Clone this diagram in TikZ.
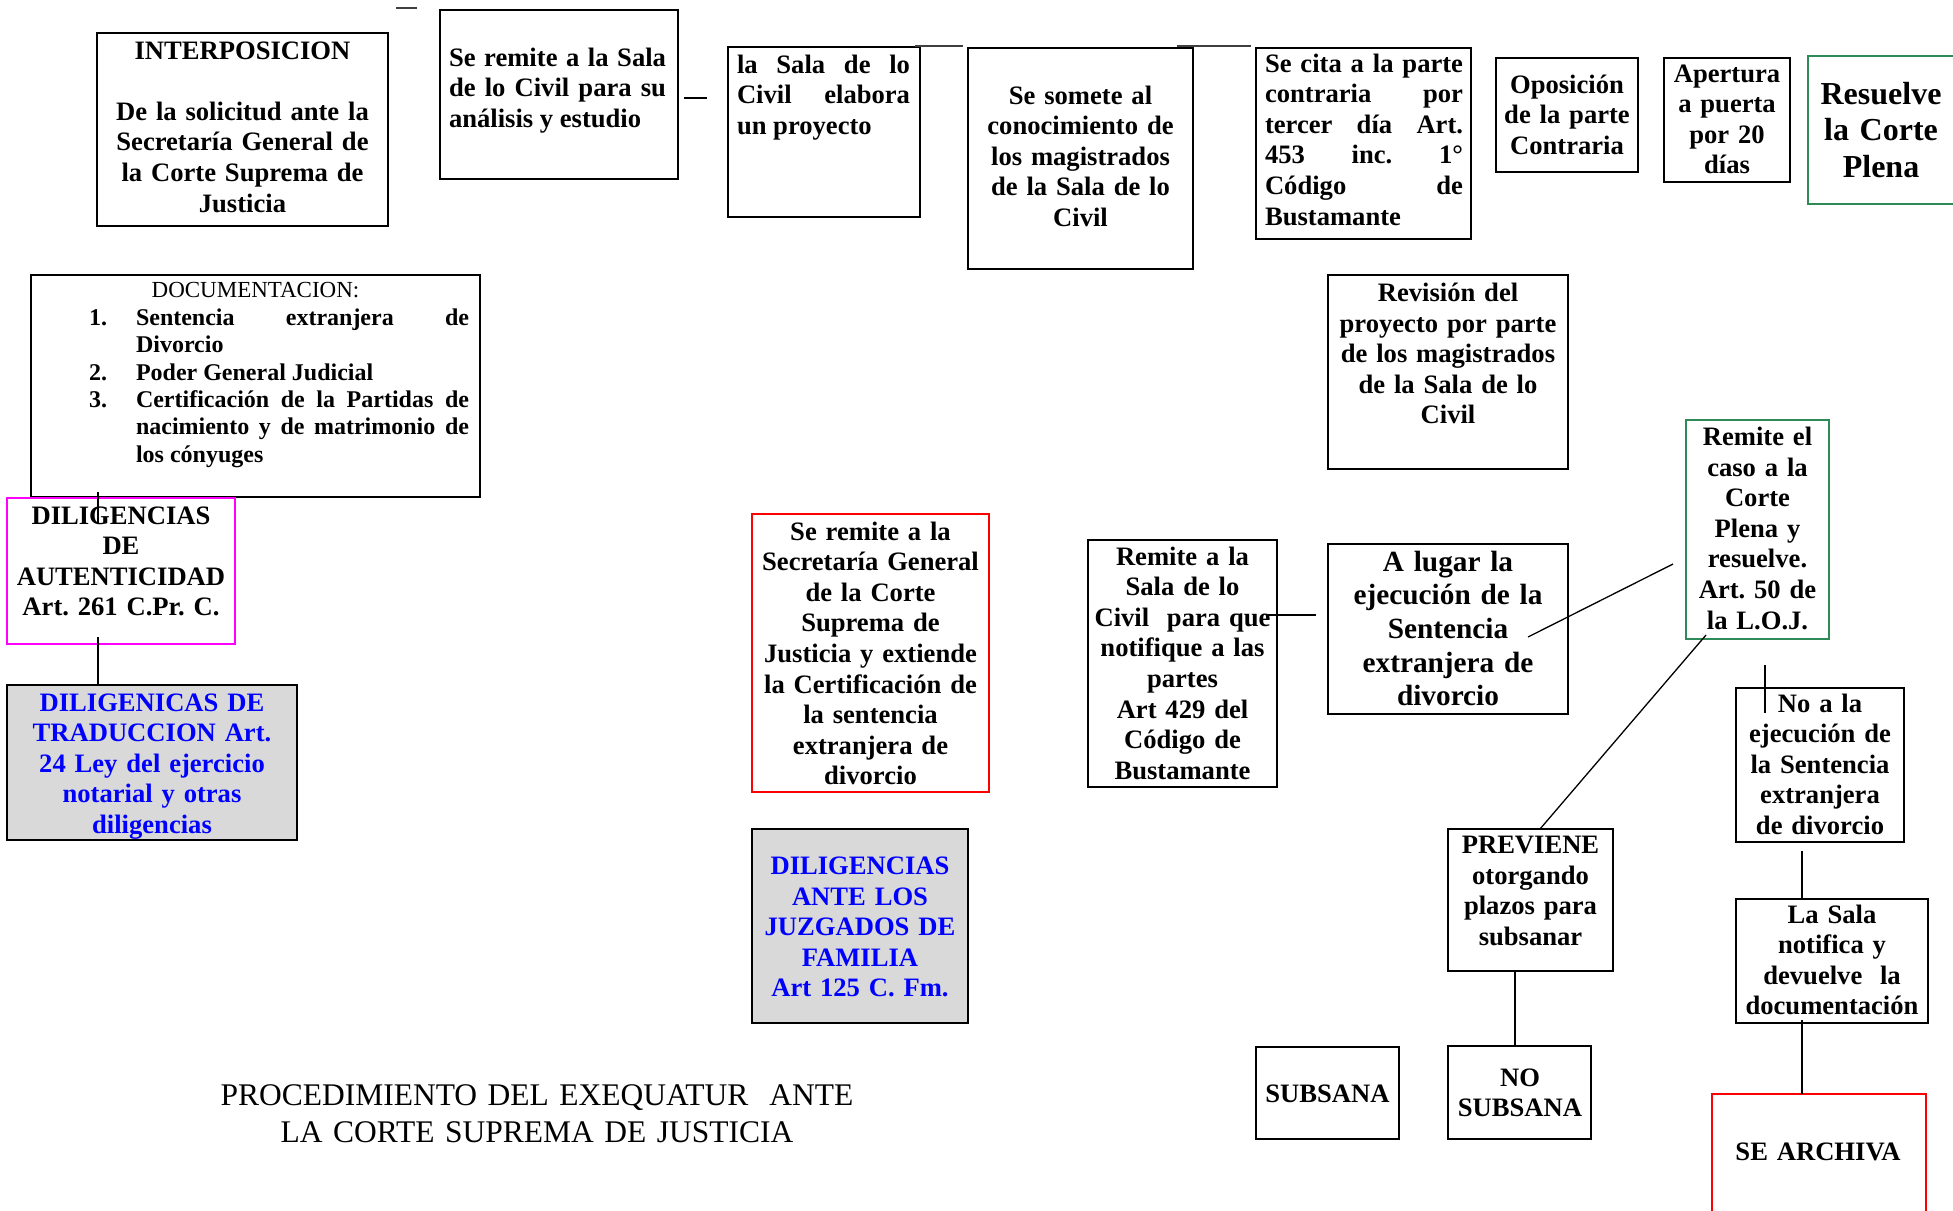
\documentclass[tikz,border=0pt]{standalone}
\usepackage{fontspec}
\setmainfont{Liberation Serif}
\hyphenpenalty=10000 \exhyphenpenalty=10000 \tolerance=9999
\frenchspacing
\definecolor{sgreen}{RGB}{46,139,87}
\definecolor{mag}{RGB}{255,0,255}
\definecolor{pred}{RGB}{255,0,0}
\definecolor{pblue}{RGB}{0,0,255}
\definecolor{lgray}{RGB}{217,217,217}
\newcommand\mkbox[6]{\node[#2,anchor=north west,minimum width={#5pt-#3pt},minimum height={#6pt-#4pt}] (#1) at (#3,#4) {};}
\begin{document}
\begin{tikzpicture}[x=1pt,y=-1pt,
  frame/.style={inner sep=0pt,outer sep=0pt},
  box/.style={frame,draw=black,line width=2pt},
  gbox/.style={frame,draw=sgreen,line width=1.8pt},
  mbox/.style={frame,draw=mag,line width=1.8pt},
  rbox/.style={frame,draw=pred,line width=1.8pt},
  graybox/.style={box,fill=lgray},
  conn/.style={draw=black,line width=1.3pt},
  topline/.style={draw=black!75,line width=1.6pt},
  tb/.style={inner sep=0pt,outer sep=0pt,anchor=base,align=center,font=\bfseries\fontsize{26.6}{30.6}\selectfont\frenchspacing},
  tj/.style={inner sep=0pt,outer sep=0pt,anchor=base west,align=justify,font=\bfseries\fontsize{26.6}{30.6}\selectfont\frenchspacing},
  bluetext/.style={text=pblue},
]
\path[use as bounding box,clip] (0,0) rectangle (1953,1210);
\fill[white] (0,0) rectangle (1953,1210);

% boxes
\mkbox{interp}{box}{97}{33}{388}{226}
\mkbox{remite}{box}{440}{10}{678}{179}
\mkbox{sala}{box}{728}{47}{920}{217}
\mkbox{somete}{box}{968}{48}{1193}{269}
\mkbox{cita}{box}{1256}{48}{1471}{239}
\mkbox{opos}{box}{1496}{58}{1638}{172}
\mkbox{apert}{box}{1664}{58}{1790}{182}
\mkbox{resuelve}{gbox}{1808}{56}{1975}{204}
\mkbox{revision}{box}{1328}{275}{1568}{469}
\mkbox{remcaso}{gbox}{1686}{420}{1829}{639}
\mkbox{doc}{box}{31}{275}{480}{497}
\mkbox{autent}{mbox}{7}{498}{235}{644}
\mkbox{trad}{graybox}{7}{685}{297}{840}
\mkbox{secret}{rbox}{752}{514}{989}{792}
\mkbox{juzg}{graybox}{752}{829}{968}{1023}
\mkbox{remsala}{box}{1088}{540}{1277}{787}
\mkbox{lugar}{box}{1328}{544}{1568}{714}
\mkbox{noala}{box}{1736}{688}{1904}{842}
\mkbox{lasala}{box}{1736}{899}{1928}{1023}
\mkbox{archiva}{rbox}{1712}{1094}{1926}{1240}
\mkbox{previene}{box}{1448}{829}{1613}{971}
\mkbox{subsana}{box}{1256}{1047}{1399}{1139}
\mkbox{nosub}{box}{1448}{1046}{1591}{1139}

% texts
\node[tb,text width=300pt] (t1) at (242.5,59) {INTERPOSICION\\[30.6pt]De la solicitud ante la\\Secretaría General de\\la Corte Suprema de\\Justicia};
\node[tj,text width=217pt] (t2) at (449,66) {Se remite a la Sala\linebreak de lo Civil para su\linebreak análisis y estudio};
\node[tj,text width=173pt] (t3) at (737,73) {la Sala de lo\linebreak Civil elabora\linebreak un proyecto};
\node[tb,text width=240pt] (t4) at (1080.5,104) {Se somete al\\conocimiento de\\los magistrados\\de la Sala de lo\\Civil};
\node[tj,text width=198pt] (t5) at (1265,72) {Se cita a la parte\linebreak contraria por\linebreak tercer día Art.\linebreak 453 inc. 1°\linebreak Código de\linebreak Bustamante};
\node[tb,text width=160pt] (t6) at (1567,93) {Oposición\\de la parte\\Contraria};
\node[tb,text width=140pt] (t7) at (1727,82) {Apertura\\a puerta\\por 20\\días};
\node[tb,text width=160pt,font=\bfseries\fontsize{32}{36.8}\selectfont] (t8) at (1881,104) {Resuelve\\la Corte\\Plena};
\node[tb,text width=260pt] (t9) at (1448,301.5) {Revisión del\\proyecto por parte\\de los magistrados\\de la Sala de lo\\Civil};
\node[tb,text width=160pt] (t10) at (1757.5,445.5) {Remite el\\caso a la\\Corte\\Plena y\\resuelve.\\Art. 50 de\\la L.O.J.};
\node[tb,text width=300pt,font=\fontsize{23}{27.6}\selectfont] (t11) at (255.5,297) {DOCUMENTACION:};
\node[tb,anchor=base west,font=\bfseries\fontsize{24}{27.6}\selectfont] (n1) at (89,325) {1.};
\node[tb,anchor=base west,font=\bfseries\fontsize{24}{27.6}\selectfont] (n2) at (89,380) {2.};
\node[tb,anchor=base west,font=\bfseries\fontsize{24}{27.6}\selectfont] (n3) at (89,407) {3.};
\node[tj,text width=333pt,font=\bfseries\fontsize{24}{27.6}\selectfont] (i1) at (136,325) {Sentencia extranjera de\linebreak Divorcio};
\node[tj,text width=333pt,font=\bfseries\fontsize{24}{27.6}\selectfont] (i2) at (136,380) {Poder General Judicial};
\node[tj,text width=333pt,font=\bfseries\fontsize{24}{27.6}\selectfont] (i3) at (136,407) {Certificación de la Partidas de\linebreak nacimiento y de matrimonio de\linebreak los cónyuges};
\node[tb,text width=240pt] (t12) at (121,524) {DILIGENCIAS\\DE\\AUTENTICIDAD\\Art. 261 C.Pr. C.};
\node[tb,bluetext,text width=300pt] (t13) at (152,711) {DILIGENICAS DE\\TRADUCCION Art.\\24 Ley del ejercicio\\notarial y otras\\diligencias};
\node[tb,text width=250pt] (t14) at (870.5,540) {Se remite a la\\Secretaría General\\de la Corte\\Suprema de\\Justicia y extiende\\la Certificación de\\la sentencia\\extranjera de\\divorcio};
\node[tb,bluetext,text width=230pt] (t15) at (860,874.5) {DILIGENCIAS\\ANTE LOS\\JUZGADOS DE\\FAMILIA\\Art 125 C. Fm.};
\node[tb,text width=800pt,font=\fontsize{31.5}{37}\selectfont] (title) at (537,1105) {PROCEDIMIENTO DEL EXEQUATUR\ \ ANTE\\LA CORTE SUPREMA DE JUSTICIA};
\node[tb,text width=200pt] (t17) at (1182.5,565) {Remite a la\\Sala de lo\\Civil\ \ para que\\notifique a las\\partes\\Art 429 del\\Código de\\Bustamante};
\node[tb,text width=260pt,font=\bfseries\fontsize{29.3}{33.7}\selectfont] (t18) at (1448,571) {A lugar la\\ejecución de la\\Sentencia\\extranjera de\\divorcio};
\node[tb,text width=180pt] (t19) at (1820,712) {No a la\\ejecución de\\la Sentencia\\extranjera\\de divorcio};
\node[tb,text width=200pt] (t20) at (1832,923) {La Sala\\notifica y\\devuelve\ \ la\\documentación};
\node[tb,text width=220pt] (t21) at (1818,1160) {SE ARCHIVA};
\node[tb,text width=180pt] (t22) at (1530.5,853.5) {PREVIENE\\otorgando\\plazos para\\subsanar};
\node[tb,text width=150pt] (t23) at (1327.5,1102) {SUBSANA};
\node[tb,text width=150pt] (t24) at (1520,1086) {NO\\SUBSANA};

% connectors
\coordinate (c1a) at (396,8); \coordinate (c1b) at (417,8);
\draw[topline] (c1a) -- (c1b);
\coordinate (c2a) at (684,98); \coordinate (c2b) at (707,98);
\draw[conn,line width=2pt] (c2a) -- (c2b);
\coordinate (c3a) at (915,46); \coordinate (c3b) at (963,46);
\draw[topline] (c3a) -- (c3b);
\coordinate (c4a) at (1177,46); \coordinate (c4b) at (1251,46);
\draw[topline] (c4a) -- (c4b);
\coordinate (c5a) at (98,492); \coordinate (c5b) at (98,523);
\draw[conn] (c5a) -- (c5b);
\coordinate (c6a) at (98,637);
\draw[conn] (c6a) -- (c6a |- trad.north);
\coordinate (c7a) at (1267,615); \coordinate (c7b) at (1316,615);
\draw[conn] (c7a) -- (c7b);
\coordinate (c8a) at (1528,637); \coordinate (c8b) at (1673,564);
\draw[conn] (c8a) -- (c8b);
\coordinate (c9a) at (1706,635); \coordinate (c9b) at (1540,829);
\draw[conn] (c9a) -- (c9b);
\coordinate (c10a) at (1765,665); \coordinate (c10b) at (1765,713);
\draw[conn] (c10a) -- (c10b);
\coordinate (c11a) at (1802,851);
\draw[conn] (c11a) -- (c11a |- lasala.north);
\coordinate (c12a) at (1802,1020);
\draw[conn] (c12a) -- (c12a |- archiva.north);
\coordinate (c13a) at (1515,971);
\draw[conn] (c13a) -- (c13a |- nosub.north);
\end{tikzpicture}
\end{document}
